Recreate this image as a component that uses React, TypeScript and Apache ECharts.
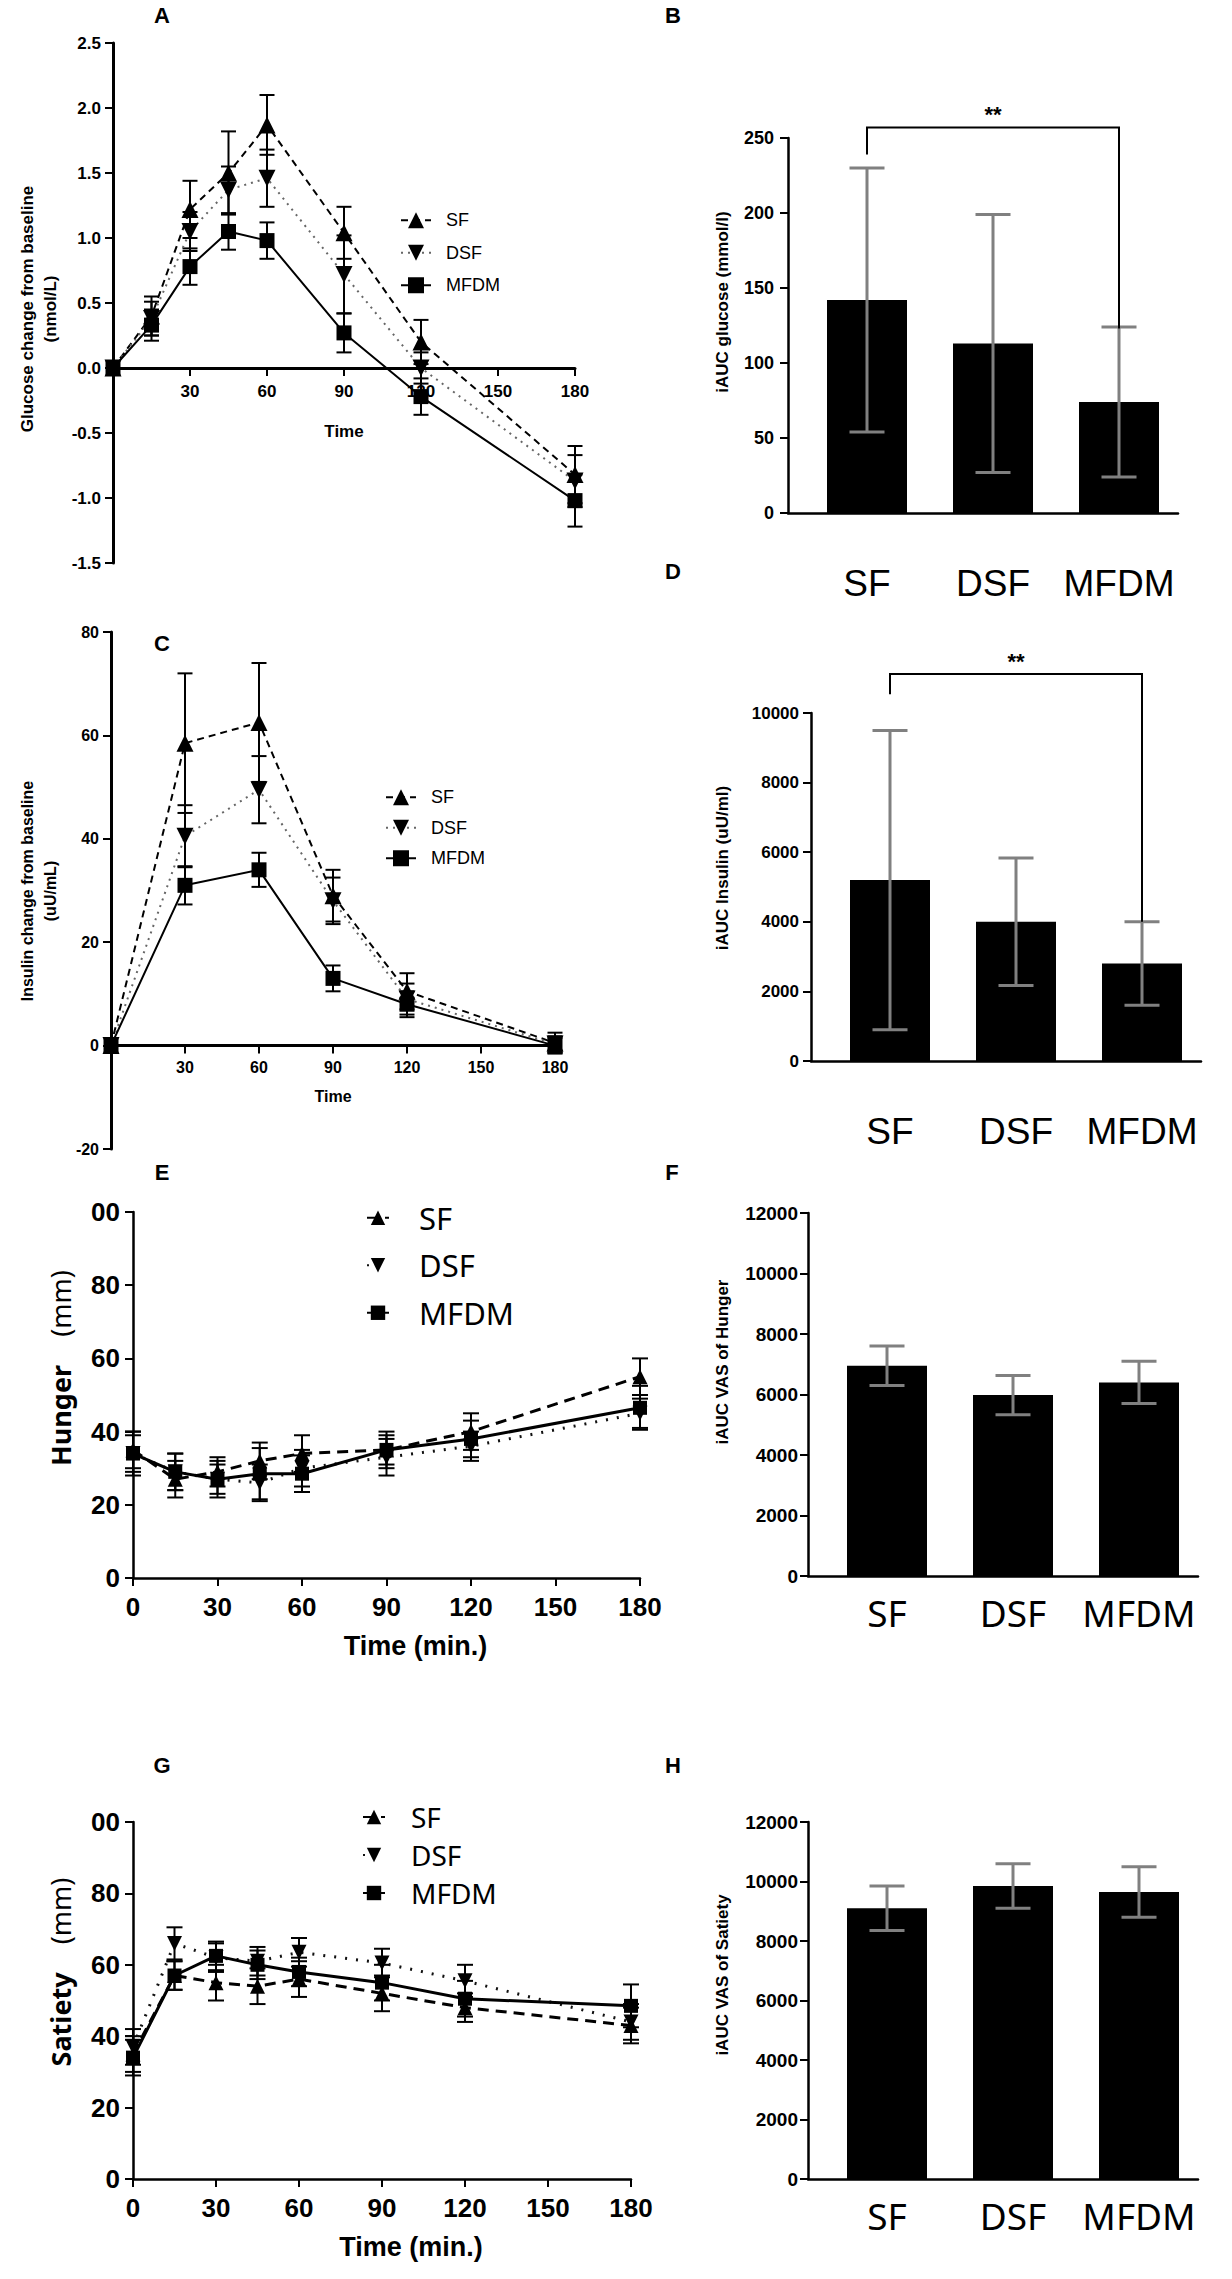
import React, { useEffect, useRef } from 'react';
import * as echarts from 'echarts';

const groups = ['SF', 'DSF', 'MFDM'];

// A: glucose change from baseline (nmol/L)
const glucoseTimes = [0, 15, 30, 45, 60, 90, 120, 180];
const glucoseSF = [0, 0.4, 1.22, 1.5, 1.87, 1.04, 0.2, -0.82];
const glucoseSFErr = [0, 0.15, 0.22, 0.32, 0.23, 0.2, 0.17, 0.22];
const glucoseDSF = [0, 0.38, 1.05, 1.37, 1.46, 0.72, 0.0, -0.87];
const glucoseDSFErr = [0, 0.13, 0.15, 0.18, 0.22, 0.3, 0.12, 0.2];
const glucoseMFDM = [0, 0.33, 0.78, 1.05, 0.98, 0.27, -0.22, -1.02];
const glucoseMFDMErr = [0, 0.12, 0.14, 0.14, 0.14, 0.15, 0.14, 0.2];

// B: iAUC glucose (mmol/l)
const iaucGlucose = [142, 113, 74];
const iaucGlucoseErr = [88, 86, 50];
const glucoseSig = [0, 2, 257, 239, 123, '**']; // from, to, bracket level, left leg end, right leg end, mark

// C: insulin change from baseline (uU/mL)
const insulinTimes = [0, 30, 60, 90, 120, 180];
const insulinSF = [0, 58.5, 62.5, 29, 10.5, 0.5];
const insulinSFErr = [0, 13.5, 11.5, 5, 3.5, 2];
const insulinDSF = [0, 40.5, 49.5, 28, 9, 0.3];
const insulinDSFErr = [0, 6, 6.5, 4.5, 3, 1.5];
const insulinMFDM = [0, 31, 34, 13, 8, 0];
const insulinMFDMErr = [0, 3.7, 3.3, 2.5, 2.5, 1.5];

// D: iAUC insulin (uU/ml)
const iaucInsulin = [5200, 4000, 2800];
const iaucInsulinErr = [4300, 1830, 1200];
const insulinSig = [0, 2, 11120, 10540, 4000, '**'];

// E: hunger (mm)
const hungerTimes = [0, 15, 30, 45, 60, 90, 120, 180];
const hungerSF = [35, 27, 29, 32, 34, 35, 40, 55];
const hungerSFErr = [5, 5, 4, 5, 5, 4, 5, 5];
const hungerDSF = [34, 29, 27, 26, 30, 33, 36, 45];
const hungerDSFErr = [5, 5, 4, 5, 5, 5, 4, 4];
const hungerMFDM = [34, 29, 27, 28.5, 28.5, 35, 38, 46.5];
const hungerMFDMErr = [6, 5, 5, 7, 5, 5, 5, 6];

// F: iAUC VAS of hunger
const iaucHunger = [6950, 5980, 6400];
const iaucHungerErr = [650, 650, 700];

// G: satiety (mm)
const satietyTimes = [0, 15, 30, 45, 60, 90, 120, 180];
const satietySF = [35, 57, 55, 54, 56, 52, 48, 43];
const satietySFErr = [5, 4, 5, 5, 5, 5, 4, 5];
const satietyDSF = [37, 66, 62, 61, 63.5, 60.5, 55.5, 44];
const satietyDSFErr = [5, 4.5, 4, 4, 4, 4, 4.5, 5];
const satietyMFDM = [34, 57, 62.5, 60, 58, 55, 50.5, 48.5];
const satietyMFDMErr = [5, 4, 4, 4, 4, 5, 5, 6];

// H: iAUC VAS of satiety
const iaucSatiety = [9100, 9850, 9650];
const iaucSatietyErr = [750, 750, 850];

const ARIAL = '"Liberation Sans", Arial, Helvetica, sans-serif';
const SANS = '"Noto Sans", "Open Sans", sans-serif';

const linePanels = [
  {
    key: 'A', times: glucoseTimes,
    vals: [glucoseSF, glucoseDSF, glucoseMFDM], errs: [glucoseSFErr, glucoseDSFErr, glucoseMFDMErr],
    grid: { left: 113, top: 43, width: 462, height: 520 },
    y: { min: -1.5, max: 2.5, interval: 0.5, fmt: (v: number) => v.toFixed(1), size: 17, margin: 12 },
    x: { hideZero: true, size: 17, margin: 15, name: 'Time', nameGap: 55, nameSize: 17, namePad: 0 },
    axisW: 3, lineW: 2, dash: [7, 5], dot: [2, 5], dotColor: '#666', tri: 17, sq: 15, cap: 15, errW: 2,
    legend: { left: 400, top: 204, lineHeight: 32.5, size: 18, font: ARIAL, pad: 10, itemH: 20, itemW: 30 },
  },
  {
    key: 'C', times: insulinTimes,
    vals: [insulinSF, insulinDSF, insulinMFDM], errs: [insulinSFErr, insulinDSFErr, insulinMFDMErr],
    grid: { left: 111, top: 632, width: 444, height: 517 },
    y: { min: -20, max: 80, interval: 20, fmt: (v: number) => String(v), size: 16, margin: 12 },
    x: { hideZero: true, size: 16, margin: 14, name: 'Time', nameGap: 43, nameSize: 16, namePad: 0 },
    axisW: 3, lineW: 2, dash: [7, 5], dot: [2, 5], dotColor: '#666', tri: 17, sq: 15, cap: 15, errW: 2,
    legend: { left: 385, top: 782, lineHeight: 30.5, size: 18, font: ARIAL, pad: 10, itemH: 20, itemW: 30 },
  },
  {
    key: 'E', times: hungerTimes,
    vals: [hungerSF, hungerDSF, hungerMFDM], errs: [hungerSFErr, hungerDSFErr, hungerMFDMErr],
    grid: { left: 133, top: 1212, width: 507, height: 366 },
    y: { min: 0, max: 100, interval: 20, fmt: (v: number) => (v === 100 ? '00' : String(v)), size: 26, margin: 13 },
    x: { hideZero: false, size: 26, margin: 16, name: 'Time (min.)', nameGap: 54, nameSize: 27, namePad: 58 },
    axisW: 2.5, lineW: 3, dash: [11, 7], dot: [2, 9], dotColor: '#111', tri: 15, sq: 14, cap: 16, errW: 2,
    legend: { left: 366, top: 1194, lineHeight: 47.5, size: 31, font: SANS, pad: 25, itemH: 18, itemW: 22 },
  },
  {
    key: 'G', times: satietyTimes,
    vals: [satietySF, satietyDSF, satietyMFDM], errs: [satietySFErr, satietyDSFErr, satietyMFDMErr],
    grid: { left: 133, top: 1822, width: 498, height: 357 },
    y: { min: 0, max: 100, interval: 20, fmt: (v: number) => (v === 100 ? '00' : String(v)), size: 26, margin: 13 },
    x: { hideZero: false, size: 26, margin: 16, name: 'Time (min.)', nameGap: 54, nameSize: 27, namePad: 58 },
    axisW: 2.5, lineW: 3, dash: [11, 7], dot: [2, 9], dotColor: '#111', tri: 15, sq: 14, cap: 16, errW: 2,
    legend: { left: 362, top: 1798, lineHeight: 38, size: 28, font: SANS, pad: 21, itemH: 18, itemW: 22 },
  },
];

const barPanels = [
  { key: 'B', vals: iaucGlucose, errs: iaucGlucoseErr, sig: glucoseSig, axisX: 788, top: 138, height: 375, max: 250, interval: 50, tickSize: 18, tickMargin: 14, catSize: 37, catFont: ARIAL, catMargin: 52 },
  { key: 'D', vals: iaucInsulin, errs: iaucInsulinErr, sig: insulinSig, axisX: 811, top: 713, height: 348, max: 10000, interval: 2000, tickSize: 17, tickMargin: 12, catSize: 37, catFont: ARIAL, catMargin: 52 },
  { key: 'F', vals: iaucHunger, errs: iaucHungerErr, sig: null, axisX: 808, top: 1213, height: 363, max: 12000, interval: 2000, tickSize: 19, tickMargin: 10, catSize: 37, catFont: SANS, catMargin: 18 },
  { key: 'H', vals: iaucSatiety, errs: iaucSatietyErr, sig: null, axisX: 808, top: 1822, height: 357, max: 12000, interval: 2000, tickSize: 19, tickMargin: 10, catSize: 37, catFont: SANS, catMargin: 18 },
];

const panelLetters = [
  { t: 'A', x: 162, y: 15 }, { t: 'B', x: 673, y: 15 },
  { t: 'C', x: 162, y: 643 }, { t: 'D', x: 673, y: 571 },
  { t: 'E', x: 162, y: 1172 }, { t: 'F', x: 672, y: 1172 },
  { t: 'G', x: 162, y: 1765 }, { t: 'H', x: 673, y: 1765 },
];

const yTitles = [
  { t: 'Glucose change from baseline\n(nmol/L)', x: 39, y: 309, size: 17, bold: true, font: ARIAL, lh: 23 },
  { t: 'Insulin change from baseline\n(uU/mL)', x: 39, y: 891, size: 16, bold: true, font: ARIAL, lh: 23 },
  { t: 'iAUC glucose (mmol/l)', x: 722, y: 302, size: 17, bold: true, font: ARIAL, lh: 20 },
  { t: 'iAUC Insulin (uU/ml)', x: 722, y: 868, size: 17, bold: true, font: ARIAL, lh: 20 },
  { t: 'iAUC VAS of Hunger', x: 722, y: 1362, size: 17, bold: true, font: ARIAL, lh: 20 },
  { t: 'iAUC VAS of Satiety', x: 722, y: 1975, size: 17, bold: true, font: ARIAL, lh: 20 },
];

const vasTitles = [
  { word: 'Hunger', unit: '(mm)', x: 60, y: 1368 },
  { word: 'Satiety', unit: '(mm)', x: 60, y: 1972 },
];

function errorSeries(xIdx: number, yIdx: number, xs: number[], ys: number[], es: number[], color: string, lw: number, cap: number, z: number) {
  return {
    type: 'custom',
    xAxisIndex: xIdx,
    yAxisIndex: yIdx,
    silent: true,
    z,
    clip: false,
    data: xs.map((x, i) => [x, ys[i] - es[i], ys[i] + es[i]]),
    encode: { x: 0, y: [1, 2] },
    renderItem: (params: any, api: any) => {
      const x = api.value(0);
      const lo = api.value(1);
      const hi = api.value(2);
      if (hi - lo <= 0) return { type: 'group', children: [] };
      const p1 = api.coord([x, lo]);
      const p2 = api.coord([x, hi]);
      const h = cap / 2;
      const st = { stroke: color, lineWidth: lw };
      return {
        type: 'group',
        children: [
          { type: 'line', shape: { x1: p1[0], y1: p1[1], x2: p2[0], y2: p2[1] }, style: st },
          { type: 'line', shape: { x1: p1[0] - h, y1: p1[1], x2: p1[0] + h, y2: p1[1] }, style: st },
          { type: 'line', shape: { x1: p2[0] - h, y1: p2[1], x2: p2[0] + h, y2: p2[1] }, style: st },
        ],
      };
    },
  };
}

function buildOption() {
  const grids: any[] = [];
  const xAxes: any[] = [];
  const yAxes: any[] = [];
  const series: any[] = [];
  const legends: any[] = [];
  const graphics: any[] = [];

  linePanels.forEach((p) => {
    const gi = grids.length;
    grids.push({ ...p.grid });
    // x axis sits on the y = 0 line
    const zeroOffset = -p.grid.height * (0 - p.y.min) / (p.y.max - p.y.min);
    xAxes.push({
      type: 'value', gridIndex: gi, min: 0, max: 180, interval: 30,
      offset: zeroOffset,
      axisLine: { show: true, onZero: false, lineStyle: { color: '#000', width: p.axisW } },
      axisTick: { show: true, length: 8, lineStyle: { color: '#000', width: 2 } },
      axisLabel: {
        color: '#000', fontFamily: ARIAL, fontWeight: 'bold', fontSize: p.x.size, margin: p.x.margin,
        formatter: (v: number) => (p.x.hideZero && v === 0 ? '' : String(v)),
      },
      splitLine: { show: false },
      name: p.x.name, nameLocation: 'middle', nameGap: p.x.nameGap,
      nameTextStyle: { color: '#000', fontFamily: ARIAL, fontWeight: 'bold', fontSize: p.x.nameSize, padding: [0, 0, 0, p.x.namePad] },
    });
    yAxes.push({
      type: 'value', gridIndex: gi, min: p.y.min, max: p.y.max, interval: p.y.interval,
      axisLine: { show: true, onZero: false, lineStyle: { color: '#000', width: p.axisW } },
      axisTick: { show: true, length: 8, lineStyle: { color: '#000', width: 2 } },
      axisLabel: { color: '#000', fontFamily: ARIAL, fontWeight: 'bold', fontSize: p.y.size, margin: p.y.margin, formatter: p.y.fmt },
      splitLine: { show: false },
    });
    const styles = [
      { symbol: 'triangle', rotate: 0, size: p.tri, line: { color: '#000', width: p.lineW, type: p.dash } },
      { symbol: 'triangle', rotate: 180, size: p.tri, line: { color: p.dotColor, width: p.lineW, type: p.dot } },
      { symbol: 'rect', rotate: 0, size: p.sq, line: { color: '#000', width: p.lineW, type: 'solid' } },
    ];
    groups.forEach((g, k) => {
      series.push(errorSeries(gi, gi, p.times, p.vals[k], p.errs[k], '#000', p.errW, p.cap, 2));
    });
    groups.forEach((g, k) => {
      const s = styles[k];
      series.push({
        type: 'line', name: `${g}|${p.key}`, xAxisIndex: gi, yAxisIndex: gi, z: 3,
        data: p.times.map((t, i) => [t, p.vals[k][i]]),
        symbol: s.symbol, symbolRotate: s.rotate, symbolSize: s.size, showAllSymbol: true,
        lineStyle: s.line, itemStyle: { color: '#000', borderWidth: 0 },
        emphasis: { disabled: true },
      });
    });
    legends.push({
      data: groups.map((g) => `${g}|${p.key}`),
      formatter: (n: string) => n.split('|')[0],
      orient: 'vertical', left: p.legend.left, top: p.legend.top, padding: 0, itemGap: 0,
      itemWidth: p.legend.itemW, itemHeight: p.legend.itemH, selectedMode: false,
      textStyle: { color: '#000', fontFamily: p.legend.font, fontSize: p.legend.size, lineHeight: p.legend.lineHeight, padding: [0, 0, 0, p.legend.pad] },
    });
  });

  barPanels.forEach((p) => {
    const axisGi = grids.length;
    grids.push({ left: p.axisX, top: p.top, width: 390, height: p.height });
    const barGi = grids.length;
    grids.push({ left: p.axisX + 16, top: p.top, width: 378, height: p.height });
    // axis frame grid
    xAxes.push({
      type: 'value', gridIndex: axisGi, min: 0, max: 1,
      axisLine: { show: true, onZero: false, lineStyle: { color: '#000', width: 2.5 } },
      axisTick: { show: false }, axisLabel: { show: false }, splitLine: { show: false },
    });
    yAxes.push({
      type: 'value', gridIndex: axisGi, min: 0, max: p.max, interval: p.interval,
      axisLine: { show: true, lineStyle: { color: '#000', width: 2.5 } },
      axisTick: { show: true, length: 8, lineStyle: { color: '#000', width: 2 } },
      axisLabel: { color: '#000', fontFamily: ARIAL, fontWeight: 'bold', fontSize: p.tickSize, margin: p.tickMargin, formatter: (v: number) => String(v) },
      splitLine: { show: false },
    });
    // bar grid
    const bx = xAxes.length;
    xAxes.push({
      type: 'category', gridIndex: barGi, data: groups,
      axisLine: { show: false }, axisTick: { show: false },
      axisLabel: { color: '#000', fontFamily: p.catFont, fontSize: p.catSize, margin: p.catMargin, interval: 0, hideOverlap: false },
      splitLine: { show: false },
    });
    const by = yAxes.length;
    yAxes.push({ type: 'value', gridIndex: barGi, min: 0, max: p.max, show: false, splitLine: { show: false } });
    series.push({
      type: 'bar', xAxisIndex: bx, yAxisIndex: by, data: p.vals, barWidth: 80, z: 2,
      itemStyle: { color: '#000' }, emphasis: { disabled: true },
    });
    series.push(errorSeries(bx, by, [0, 1, 2], p.vals, p.errs, '#808080', 3, 35, 3));
    if (p.sig) {
      const sig = p.sig;
      series.push({
        type: 'custom', xAxisIndex: bx, yAxisIndex: by, z: 4, silent: true, clip: false,
        data: [sig.slice(0, 5)],
        encode: { x: [0, 1], y: [2, 3, 4] },
        renderItem: (params: any, api: any) => {
          const a = api.value(0);
          const b = api.value(1);
          const top = api.value(2);
          const le = api.value(3);
          const re = api.value(4);
          const pts = [api.coord([a, le]), api.coord([a, top]), api.coord([b, top]), api.coord([b, re])];
          const mid = api.coord([(a + b) / 2, top]);
          return {
            type: 'group',
            children: [
              { type: 'polyline', shape: { points: pts }, style: { stroke: '#000', lineWidth: 2, fill: 'none' } },
              { type: 'text', x: mid[0], y: mid[1] - 2, style: { text: String(sig[5]), fill: '#000', font: `bold 22px ${ARIAL}`, align: 'center', verticalAlign: 'bottom' } },
            ],
          };
        },
      });
    }
  });

  panelLetters.forEach((l) => {
    graphics.push({ type: 'text', x: l.x, y: l.y, style: { text: l.t, fill: '#000', font: `bold 22px ${ARIAL}`, align: 'center', verticalAlign: 'middle' } });
  });
  yTitles.forEach((t) => {
    graphics.push({
      type: 'text', x: t.x, y: t.y, rotation: Math.PI / 2,
      style: { text: t.t, fill: '#000', font: `${t.bold ? 'bold ' : ''}${t.size}px ${t.font}`, lineHeight: t.lh, align: 'center', verticalAlign: 'middle' },
    });
  });
  vasTitles.forEach((t) => {
    graphics.push({
      type: 'text', x: t.x, y: t.y, rotation: Math.PI / 2,
      style: {
        text: `{b|${t.word}}{n|    ${t.unit}}`,
        align: 'center', verticalAlign: 'middle',
        rich: {
          b: { fontFamily: SANS, fontSize: 27, fontWeight: 'bold', fill: '#000', color: '#000' },
          n: { fontFamily: SANS, fontSize: 27, fontWeight: 'normal', fill: '#000', color: '#000' },
        },
      },
    });
  });

  return {
    animation: false,
    backgroundColor: '#ffffff',
    grid: grids,
    xAxis: xAxes,
    yAxis: yAxes,
    legend: legends,
    series,
    graphic: { elements: graphics },
  };
}

export default function App() {
  const ref = useRef<HTMLDivElement>(null);
  useEffect(() => {
    if (!ref.current) return;
    const chart = echarts.init(ref.current, undefined, { renderer: 'svg' });
    chart.setOption(buildOption() as any);
    return () => chart.dispose();
  }, []);
  return <div ref={ref} style={{ position: 'absolute', left: 0, top: 0, width: 1232, height: 2279, background: '#fff' }} />;
}
